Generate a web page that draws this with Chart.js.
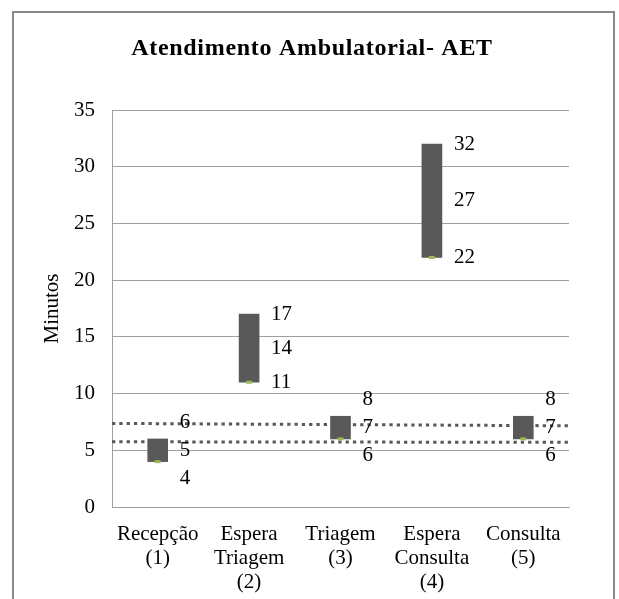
<!DOCTYPE html>
<html>
<head>
<meta charset="utf-8">
<script src="https://cdn.jsdelivr.net/npm/chart.js@4/dist/chart.umd.min.js"></script>
<style>
  html, body { margin: 0; padding: 0; background: #fff; }
  #wrap { position: relative; width: 619px; height: 599px; }
</style>
</head>
<body>
<div id="wrap"><canvas id="chart" width="619" height="599"></canvas></div>
<script>
const categories = [
  ["Recepção", "(1)"],
  ["Espera", "Triagem", "(2)"],
  ["Triagem", "(3)"],
  ["Espera", "Consulta", "(4)"],
  ["Consulta", "(5)"],
];
const lowValues = [4, 11, 6, 22, 6];
const midValues = [5, 14, 7, 27, 7];
const highValues = [6, 17, 8, 32, 8];
// dotted reference lines (start, end)
const upperRefLine = [7.37, 7.16];
const lowerRefLine = [5.75, 5.7];
const yMax = 35;
const yStep = 5;

const chartTitle = "Atendimento Ambulatorial- AET";
const serif = "'Liberation Serif', 'Times New Roman', serif";

// outer frame + title
const framePlugin = {
  id: "frame",
  beforeDraw(chart) {
    const ctx = chart.ctx;
    ctx.save();
    ctx.fillStyle = "#fff";
    ctx.fillRect(0, 0, chart.width, chart.height);
    ctx.strokeStyle = "#8a8a8a";
    ctx.lineWidth = 2;
    ctx.strokeRect(13, 12, 601, 700);
    ctx.fillStyle = "#000";
    ctx.font = "bold 24px " + serif;
    ctx.letterSpacing = "0.7px";
    ctx.textAlign = "center";
    ctx.textBaseline = "alphabetic";
    ctx.fillText(chartTitle, 312, 55);
    ctx.restore();
  },
};

// high / mid / low labels to the right of each bar
const valueLabels = {
  id: "valueLabels",
  afterDatasetsDraw(chart) {
    const ctx = chart.ctx;
    const x = chart.scales.x;
    const y = chart.scales.y;
    const minGap = 28;
    ctx.save();
    ctx.font = "21px " + serif;
    ctx.fillStyle = "#000";
    ctx.textAlign = "left";
    ctx.textBaseline = "middle";
    categories.forEach((c, i) => {
      const px = x.getPixelForValue(i) + 22;
      const midY = y.getPixelForValue(midValues[i]);
      const hiY = Math.min(y.getPixelForValue(highValues[i]), midY - minGap);
      const loY = Math.max(y.getPixelForValue(lowValues[i]), midY + minGap);
      ctx.fillText(String(highValues[i]), px, hiY);
      ctx.fillText(String(midValues[i]), px, midY);
      ctx.fillText(String(lowValues[i]), px, loY);
    });
    ctx.restore();
  },
};

new Chart(document.getElementById("chart"), {
  data: {
    labels: categories,
    datasets: [
      {
        type: "bar",
        data: lowValues.map((v, i) => [v, highValues[i]]),
        backgroundColor: "#595959",
        barThickness: 20,
        grouped: false,
        order: 1,
      },
      {
        type: "line",
        data: lowValues,
        showLine: false,
        pointStyle: "line",
        pointRadius: 3,
        pointBorderWidth: 3,
        pointBorderColor: "#9bbb59",
        pointBackgroundColor: "#9bbb59",
        order: 0,
      },
      {
        type: "line",
        xAxisID: "x2",
        data: [{ x: 0, y: upperRefLine[0] }, { x: 1, y: upperRefLine[1] }],
        borderColor: "#595959",
        borderWidth: 3,
        borderDash: [3.3, 4],
        borderCapStyle: "butt",
        pointRadius: 0,
        order: 2,
      },
      {
        type: "line",
        xAxisID: "x2",
        data: [{ x: 0, y: lowerRefLine[0] }, { x: 1, y: lowerRefLine[1] }],
        borderColor: "#595959",
        borderWidth: 3,
        borderDash: [3.3, 4],
        borderCapStyle: "butt",
        pointRadius: 0,
        order: 2,
      },
    ],
  },
  plugins: [framePlugin, valueLabels],
  options: {
    responsive: false,
    animation: false,
    layout: {
      padding: { left: 0, right: 50, top: 110, bottom: 0 },
    },
    plugins: {
      legend: { display: false },
      tooltip: { enabled: false },
      title: { display: false },
    },
    scales: {
      x: {
        type: "category",
        offset: true,
        afterFit: (s) => { s.height = 92; },
        grid: { display: false },
        border: { display: true, color: "#a0a0a0" },
        ticks: {
          color: "#000",
          font: { family: serif, size: 21, lineHeight: 1.143 },
          padding: 7,
          maxRotation: 0,
          autoSkip: false,
        },
      },
      x2: {
        type: "linear",
        display: false,
        min: 0,
        max: 1,
      },
      y: {
        min: 0,
        max: yMax,
        afterFit: (s) => { s.width = 112; },
        grid: { color: "#a0a0a0", drawTicks: false },
        border: { display: true, color: "#a0a0a0" },
        ticks: {
          stepSize: yStep,
          color: "#000",
          font: { family: serif, size: 21 },
          padding: 17,
        },
        title: {
          display: true,
          text: "Minutos",
          color: "#000",
          font: { family: serif, size: 21 },
          padding: { top: 40, bottom: 0 },
        },
      },
    },
  },
});
</script>
</body>
</html>
